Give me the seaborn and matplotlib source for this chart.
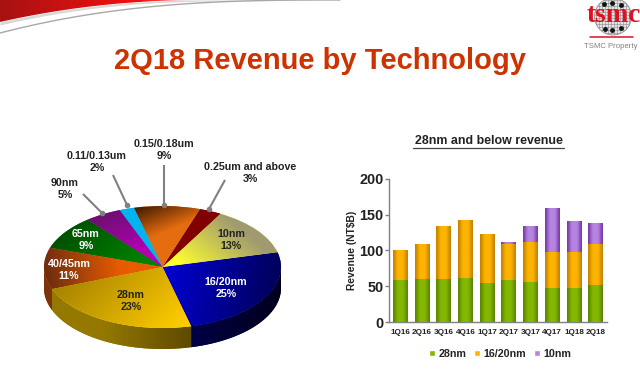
import numpy as np
import pandas as pd
import matplotlib
matplotlib.use("Agg")
import matplotlib.pyplot as plt
from matplotlib.colors import to_rgb
from matplotlib.patches import Circle, PathPatch
from matplotlib.path import Path
import seaborn as sns

# ---- data ----
pie_labels = ["16/20nm", "10nm", "0.25um and above", "0.15/0.18um", "0.11/0.13um",
              "90nm", "65nm", "40/45nm", "28nm"]
pie_values = [25, 13, 3, 9, 2, 5, 9, 11, 23]
quarters = ["1Q16", "2Q16", "3Q16", "4Q16", "1Q17", "2Q17", "3Q17", "4Q17", "1Q18", "2Q18"]
rev_28 = [59, 60, 60, 61, 55, 58, 56, 47, 48, 52]
rev_16 = [41, 48, 73, 80, 67, 51, 56, 50, 49, 57]
rev_10 = [0, 0, 0, 0, 0, 2, 22, 61, 42, 28]

# ---- styles ----
W, H = 640, 378
FONT = "Liberation Sans"
sns.set_style("white")
plt.rcParams["font.family"] = [FONT, "DejaVu Sans"]

# gradient per wedge: colour A, colour B, point A, point B (unit-circle space)
top_style = {
    "16/20nm": ("#0000d0", "#00005a", (0.05, 0.0), (1.0, -0.1)),
    "10nm": ("#ffff30", "#a09a70", (0.1, 0.1), (0.75, 0.5)),
    "0.25um and above": ("#800000", "#800000", (0, 0), (1, 0)),
    "0.15/0.18um": ("#e56d10", "#3c1800", (0.05, 0.6), (-0.25, 0.98)),
    "0.11/0.13um": ("#00b4f0", "#00b4f0", (0, 0), (1, 0)),
    "90nm": ("#b000b0", "#6c1070", (-0.2, 0.3), (-0.6, 0.8)),
    "65nm": ("#008000", "#005000", (-0.2, 0.1), (-0.9, 0.5)),
    "40/45nm": ("#e85c00", "#6c2c10", (-0.35, -0.05), (-1.0, -0.1)),
    "28nm": ("#ffcc00", "#a88400", (0.2, -0.9), (-0.9, -0.35)),
}
side_style = {
    "16/20nm": ("#000048", "#00001e", (0.2, 0), (1.0, 0)),
    "40/45nm": ("#7c3408", "#7c3408", (-1, 0), (0, 0)),
    "28nm": ("#947800", "#5e4a00", (-0.5, 0), (0.24, 0)),
}
label_px = {
    "10nm": (231, 240, "#222222"),
    "16/20nm": (226, 288, "white"),
    "28nm": (131, 301, "#222222"),
    "40/45nm": (69, 270, "white"),
    "65nm": (86, 240, "white"),
    "90nm": (65, 189, "#222222"),
    "0.11/0.13um": (97, 162, "#222222"),
    "0.15/0.18um": (164, 150, "#222222"),
    "0.25um and above": (250, 173, "#222222"),
}
leaders_px = [((164, 165), (164, 205)), ((225, 180), (209, 209)),
              ((113, 175), (127, 205)), ((83, 194), (102, 213))]


def gradient_rgb(X, Y, ca, cb, pa, pb):
    d = np.array(pb, float) - np.array(pa, float)
    t = ((X - pa[0]) * d[0] + (Y - pa[1]) * d[1]) / max((d ** 2).sum(), 1e-9)
    t = np.clip(t, 0, 1)[..., None]
    return np.array(to_rgb(ca)) * (1 - t) + np.array(to_rgb(cb)) * t


def px_axes(x0, y0, x1, y1, **kw):
    return fig.add_axes([x0 / W, 1 - y1 / H, (x1 - x0) / W, (y1 - y0) / H], **kw)


fig = plt.figure(figsize=(W / 100, H / 100), dpi=100, facecolor="white")

# ---- background layer in pixel coordinates ----
bg = fig.add_axes([0, 0, 1, 1], zorder=0)
bg.set_xlim(0, W)
bg.set_ylim(H, 0)
bg.axis("off")

xs = np.linspace(0, 340, 120)
red_edge = 22 * (1 - np.clip(xs / 205, 0, 1)) ** 2.1
gray_hi = 33 * (1 - np.clip(xs / 330, 0, 1)) ** 2.6
gx, gy = np.meshgrid(np.linspace(0, 340, 340), np.linspace(0, 40, 40))
red_img = gradient_rgb(gx, gy, "#a81212", "#ee1010", (0, 0), (130, 0))
fade = np.clip((gx - 140) / 70, 0, 1)[..., None]
red_img = red_img * (1 - fade) + np.array([0.93, 0.80, 0.80]) * fade
im = bg.imshow(red_img, extent=(0, 340, 40, 0), aspect="auto", zorder=1)
im.set_clip_path(bg.fill_between(xs, 0, red_edge, color="none").get_paths()[0], bg.transData)
bg.fill_between(xs, red_edge, red_edge + 3.0 * (1 - xs / 340), color="#d8d8d8", lw=0, zorder=1.5)
bg.plot(xs, gray_hi, color="#a8a8a8", lw=1.0, zorder=2)
bg.set_xlim(0, W)
bg.set_ylim(H, 0)

# logo
globe = Circle((613, 16.5), 18.5, fc="#e4e4e4", ec="#909090", lw=0.6, zorder=3)
bg.add_patch(globe)
for v in np.arange(596, 632, 3):
    bg.plot([v, v], [0, 35], color="#8a8a8a", lw=0.4, zorder=3.1, clip_path=globe)
for v in np.arange(0, 36, 3):
    bg.plot([594, 632], [v, v], color="#8a8a8a", lw=0.4, zorder=3.1, clip_path=globe)
bg.scatter([604, 612, 621, 605, 612, 621], [4, 3, 5, 29, 30, 28], s=6, color="#111111", zorder=3.2)
bg.text(613.5, 15.5, "tsmc", color="#e01020", family="Liberation Serif", weight="bold", size=19.5,
        ha="center", va="center", zorder=4)
bg.plot([590, 633], [37, 37], color="#e01020", lw=1.1, zorder=3)
bg.text(611, 47, "TSMC Property", color="#808080", size=5.6, ha="center", va="center")

# title
bg.text(319.5, 69, "2Q18 Revenue by Technology", color="#cc3300", size=21, weight="bold",
        ha="center", va="baseline")

# ---- 3D-look pie ----
cx, cy, rx, ry, depth = 162.5, 267, 118.5, 61, 21
pax = px_axes(cx - rx, cy - ry, cx + rx, cy + ry + depth, zorder=1)
wedges, _ = pax.pie(pie_values, startangle=-76, counterclock=True, radius=1,
                    colors=[top_style[n][0] for n in pie_labels],
                    wedgeprops={"linewidth": 0})
dz = depth / ry
pax.set_aspect("auto")
pax.set_xlim(-1, 1)
pax.set_ylim(-1 - dz, 1)
pax.axis("off")

X, Y = np.meshgrid(np.linspace(-1, 1, 300), np.linspace(1, -1 - dz, 200))
for name, wedge in zip(pie_labels, wedges):
    wedge.set_zorder(2)
    ca, cb, pa, pb = top_style[name]
    img = pax.imshow(gradient_rgb(X, Y, ca, cb, pa, pb), extent=(-1, 1, -1 - dz, 1),
                     aspect="auto", zorder=3)
    img.set_clip_path(wedge)
    if name in side_style:
        ca, cb, pa, pb = side_style[name]
        for lo_hi in ((180, 360), (-180, 0)):
            lo, hi = max(wedge.theta1, lo_hi[0]), min(wedge.theta2, lo_hi[1])
            if hi <= lo:
                continue
            t = np.radians(np.linspace(lo, hi, 60))
            top = np.column_stack([np.cos(t), np.sin(t)])
            low = (top - [0, dz])[::-1]
            poly = PathPatch(Path(np.vstack([top, low, top[:1]])), fc=ca, lw=0, zorder=1)
            pax.add_patch(poly)
            side = pax.imshow(gradient_rgb(X, Y, ca, cb, pa, pb), extent=(-1, 1, -1 - dz, 1),
                              aspect="auto", zorder=1.5)
            side.set_clip_path(poly)
pax.set_xlim(-1, 1)
pax.set_ylim(-1 - dz, 1)

# ---- overlay for text and leaders ----
ov = fig.add_axes([0, 0, 1, 1], zorder=5)
ov.set_xlim(0, W)
ov.set_ylim(H, 0)
ov.axis("off")
ov.patch.set_alpha(0)
for name, pct in zip(pie_labels, pie_values):
    x, y, c = label_px[name]
    ov.text(x, y, f"{name}\n{pct}%", color=c, size=7.7, weight="bold", ha="center", va="center",
            linespacing=1.25)
for (p0, p1) in leaders_px:
    ov.plot([p0[0], p1[0]], [p0[1], p1[1]], color="#808080", lw=1.5, solid_capstyle="butt")
    ov.scatter([p1[0]], [p1[1]], s=16, color="#808080", zorder=3, lw=0)
ov.text(488.5, 141.5, "28nm and below revenue", color="#222222", size=8.9, weight="bold",
        ha="center", va="center")
ov.plot([413, 564], [147.5, 147.5], color="#444444", lw=0.9)
ov.text(352, 250, "Revenue (NT$B)", color="#222222", size=7.4, weight="bold", rotation=90,
        ha="center", va="center")

# ---- stacked bars ----
df = pd.DataFrame({"quarter": quarters, "n28": rev_28, "n16": rev_16, "n10": rev_10})
bax = px_axes(389.3, 178.7, 606.7, 322, zorder=2)
b16 = np.array(rev_28)
b10 = b16 + np.array(rev_16)
bar_style = [("#84b800", "#5e8800"), ("#fdb400", "#c88400"), ("#b484e0", "#7c3cac")]
sns.barplot(data=df, x="quarter", y="n28", color=bar_style[0][0], saturation=1, width=0.68,
            ax=bax, label="28nm")
sns.barplot(data=df, x="quarter", y="n16", bottom=b16, color=bar_style[1][0], saturation=1,
            width=0.68, ax=bax, label="16/20nm")
sns.barplot(data=df, x="quarter", y="n10", bottom=b10, color=bar_style[2][0], saturation=1,
            width=0.68, ax=bax, label="10nm")
prof = np.array([0, 0.35, 0.75, 1.0, 1.0, 1.0, 1.0, 0.75, 0.35, 0])
n = len(quarters)
for i, bar in enumerate(bax.patches):
    if bar.get_height() <= 0:
        continue
    mid, edge = bar_style[i // n]
    row = (np.array(to_rgb(edge)) * (1 - prof[:, None]) + np.array(to_rgb(mid)) * prof[:, None])[None]
    bax.imshow(row, extent=(bar.get_x(), bar.get_x() + bar.get_width(),
                            bar.get_y(), bar.get_y() + bar.get_height()),
               aspect="auto", zorder=3, interpolation="bilinear")
bax.set_xlim(-0.5, n - 0.5)
bax.set_ylim(0, 200)
bax.set_yticks([0, 50, 100, 150, 200])
bax.set_xlabel("")
bax.set_ylabel("")
bax.patch.set_alpha(0)
sns.despine(ax=bax)
for s in ("left", "bottom"):
    bax.spines[s].set_color("#808080")
    bax.spines[s].set_linewidth(1.0)
bax.tick_params(axis="y", left=True, length=3, width=1, color="#808080", labelsize=10.4,
                labelcolor="#222222", pad=1)
bax.tick_params(axis="x", bottom=False, labelsize=5.9, labelcolor="#222222", pad=6)
for lab in bax.get_xticklabels() + bax.get_yticklabels():
    lab.set_fontweight("bold")
bax.tick_params(axis="x", pad=1.5)
leg = bax.legend(loc="center", bbox_to_anchor=(500 / W, 1 - 354 / H), bbox_transform=fig.transFigure,
                 ncol=3, frameon=False, fontsize=7.7, handlelength=0.56, handleheight=0.56,
                 handletextpad=0.3, columnspacing=0.75, borderpad=0)
for t in leg.get_texts():
    t.set_fontweight("bold")
    t.set_color("#222222")

fig.savefig("out.png", dpi=100, facecolor="white")
